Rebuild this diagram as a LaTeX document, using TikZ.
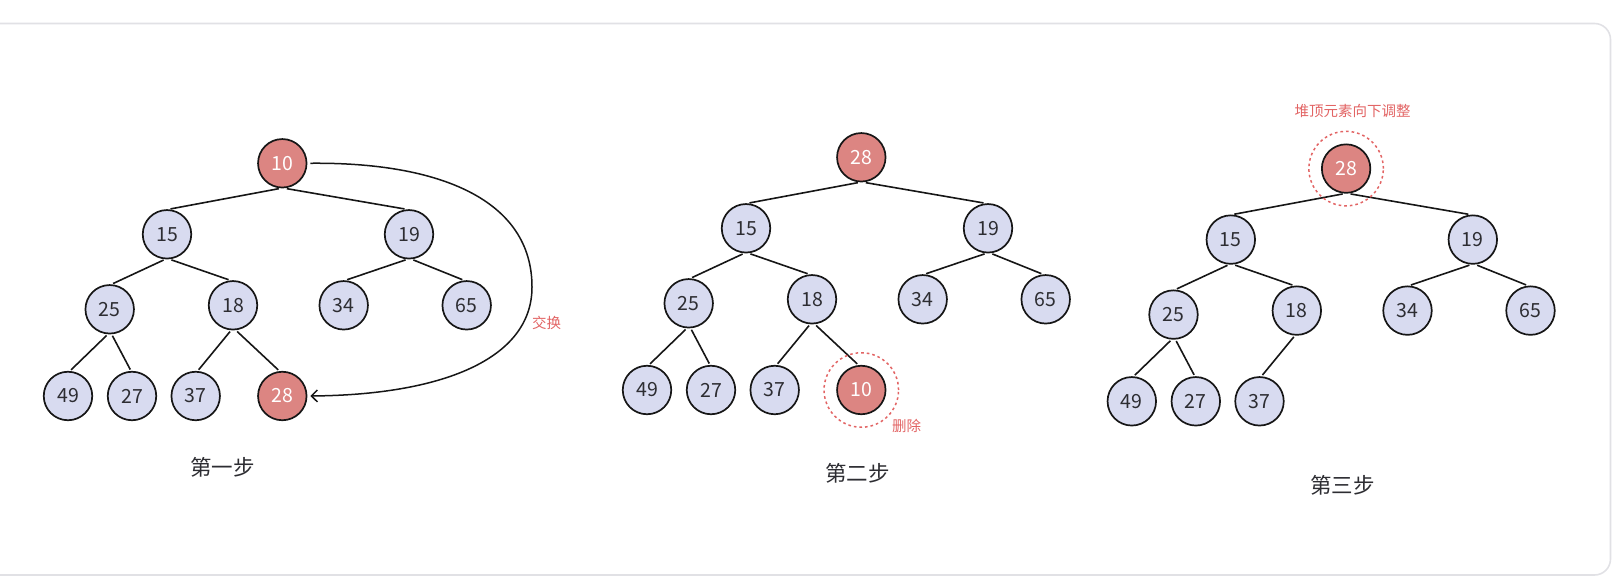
\documentclass[tikz,border=0pt]{standalone}
\usepackage{fontspec}
\newfontfamily\cjk{Noto Sans CJK SC}
\usetikzlibrary{arrows.meta}
\definecolor{lav}{RGB}{216,219,240}
\definecolor{redfill}{RGB}{220,133,130}
\definecolor{redtxt}{RGB}{226,100,100}
\definecolor{framegray}{RGB}{225,225,229}
\definecolor{ink}{RGB}{22,22,22}
\definecolor{captxt}{RGB}{45,45,50}
\tikzset{
  hnode/.style={circle, draw=ink, line width=1.7pt, minimum size=48.5pt, inner sep=0pt,
    fill=lav, text=captxt, font=\cjk\fontsize{19.5}{20}\selectfont},
  hot/.style={hnode, fill=redfill, text=white},
  tedge/.style={draw=ink, line width=1.6pt, shorten <=1.5pt, shorten >=1.5pt},
  ring/.style={circle, draw=redtxt, line width=1.5pt, dash pattern=on 2.6pt off 3pt, minimum size=74.5pt, inner sep=0pt},
  redlab/.style={text=redtxt, font=\cjk\fontsize{14.5}{16}\selectfont, inner sep=0pt},
  caplab/.style={text=captxt, font=\cjk\fontsize{21.5}{24}\selectfont, inner sep=0pt},
  swaparrow/.style={draw=ink, line width=1.5pt, shorten <=3pt, shorten >=3pt, -{Straight Barb[length=6pt,width=12pt,line width=1.5pt]}}
}
\begin{document}
\begin{tikzpicture}[x=1pt,y=-1pt]
\useasboundingbox (0,0) rectangle (1620,588);
\draw[framegray, line width=1.6pt, rounded corners=16pt] (-20,23.5) rectangle (1610.5,575);

% ---------- Step 1 ----------
\begin{scope}[shift={(282.3,163.3)}]
\node[hot]   (s1r) at (0,0) {10};
\node[hnode] (s1a) at (-115.3,71) {15};
\node[hnode] (s1b) at (126.7,71) {19};
\node[hnode] (s1c) at (-172.6,146) {25};
\node[hnode] (s1d) at (-49.3,142) {18};
\node[hnode] (s1e) at (61.4,142) {34};
\node[hnode] (s1f) at (184.4,142) {65};
\node[hnode] (s1g) at (-214.3,232.7) {49};
\node[hnode] (s1h) at (-150.3,232.7) {27};
\node[hnode] (s1i) at (-86.6,232.7) {37};
\node[hot]   (s1j) at (0,232.7) {28};
\end{scope}
\draw[tedge] ([xshift=-2pt]s1r.south) -- ([xshift=2pt]s1a.north);
\draw[tedge] ([xshift=3pt]s1r.south) -- ([xshift=-3pt]s1b.north);
\draw[tedge] ([xshift=-2pt]s1a.south) -- ([xshift=2pt]s1c.north);
\draw[tedge] ([xshift=3pt]s1a.south) -- ([xshift=-3pt]s1d.north);
\draw[tedge] ([xshift=-2pt]s1b.south) -- ([xshift=2pt]s1e.north);
\draw[tedge] ([xshift=3pt]s1b.south) -- ([xshift=-3pt]s1f.north);
\draw[tedge] ([xshift=-2pt]s1c.south) -- ([xshift=2pt]s1g.north);
\draw[tedge] ([xshift=2pt]s1c.south) -- ([xshift=-1pt]s1h.north);
\draw[tedge] ([xshift=-2pt]s1d.south) -- ([xshift=2pt]s1i.north);
\draw[tedge] ([xshift=3pt]s1d.south) -- ([xshift=-3pt]s1j.north);
\coordinate (swapmid) at (532,287);
\draw[swaparrow] (s1r.east) .. controls (440,162) and (532,200) .. (swapmid)
  .. controls (532,360) and (440,395) .. (s1j.east);
\node[redlab] (swaplab) at (546.7,323.3) {交换};
\node[caplab] (cap1) at (222.7,467.7) {第一步};

% ---------- Step 2 ----------
\begin{scope}[shift={(861.3,157.3)}]
\node[hot]   (s2r) at (0,0) {28};
\node[hnode] (s2a) at (-115.3,71) {15};
\node[hnode] (s2b) at (126.7,71) {19};
\node[hnode] (s2c) at (-172.6,146) {25};
\node[hnode] (s2d) at (-49.3,142) {18};
\node[hnode] (s2e) at (61.4,142) {34};
\node[hnode] (s2f) at (184.4,142) {65};
\node[hnode] (s2g) at (-214.3,232.7) {49};
\node[hnode] (s2h) at (-150.3,232.7) {27};
\node[hnode] (s2i) at (-86.6,232.7) {37};
\node[hot]   (s2j) at (0,232.7) {10};
\end{scope}
\draw[tedge] ([xshift=-2pt]s2r.south) -- ([xshift=2pt]s2a.north);
\draw[tedge] ([xshift=3pt]s2r.south) -- ([xshift=-3pt]s2b.north);
\draw[tedge] ([xshift=-2pt]s2a.south) -- ([xshift=2pt]s2c.north);
\draw[tedge] ([xshift=3pt]s2a.south) -- ([xshift=-3pt]s2d.north);
\draw[tedge] ([xshift=-2pt]s2b.south) -- ([xshift=2pt]s2e.north);
\draw[tedge] ([xshift=3pt]s2b.south) -- ([xshift=-3pt]s2f.north);
\draw[tedge] ([xshift=-2pt]s2c.south) -- ([xshift=2pt]s2g.north);
\draw[tedge] ([xshift=2pt]s2c.south) -- ([xshift=-1pt]s2h.north);
\draw[tedge] ([xshift=-2pt]s2d.south) -- ([xshift=2pt]s2i.north);
\draw[tedge] ([xshift=3pt]s2d.south) -- ([xshift=-3pt]s2j.north);
\node[ring] (ring2) at (s2j) {};
\node[redlab] (dellab) at (906.7,425.7) {删除};
\node[caplab] (cap2) at (857.7,473.3) {第二步};

% ---------- Step 3 ----------
\begin{scope}[shift={(1346.1,168.6)}]
\node[hot]   (s3r) at (0,0) {28};
\node[hnode] (s3a) at (-115.3,71) {15};
\node[hnode] (s3b) at (126.7,71) {19};
\node[hnode] (s3c) at (-172.6,146) {25};
\node[hnode] (s3d) at (-49.3,142) {18};
\node[hnode] (s3e) at (61.4,142) {34};
\node[hnode] (s3f) at (184.4,142) {65};
\node[hnode] (s3g) at (-214.3,232.7) {49};
\node[hnode] (s3h) at (-150.3,232.7) {27};
\node[hnode] (s3i) at (-86.6,232.7) {37};
\end{scope}
\draw[tedge] ([xshift=-2pt]s3r.south) -- ([xshift=2pt]s3a.north);
\draw[tedge] ([xshift=3pt]s3r.south) -- ([xshift=-3pt]s3b.north);
\draw[tedge] ([xshift=-2pt]s3a.south) -- ([xshift=2pt]s3c.north);
\draw[tedge] ([xshift=3pt]s3a.south) -- ([xshift=-3pt]s3d.north);
\draw[tedge] ([xshift=-2pt]s3b.south) -- ([xshift=2pt]s3e.north);
\draw[tedge] ([xshift=3pt]s3b.south) -- ([xshift=-3pt]s3f.north);
\draw[tedge] ([xshift=-2pt]s3c.south) -- ([xshift=2pt]s3g.north);
\draw[tedge] ([xshift=2pt]s3c.south) -- ([xshift=-1pt]s3h.north);
\draw[tedge] ([xshift=-2pt]s3d.south) -- ([xshift=2pt]s3i.north);
\node[ring] (ring3) at (s3r) {};
\node[redlab] (adjlab) at (1352.7,110.7) {堆顶元素向下调整};
\node[caplab] (cap3) at (1342.7,485) {第三步};
\end{tikzpicture}
\end{document}
